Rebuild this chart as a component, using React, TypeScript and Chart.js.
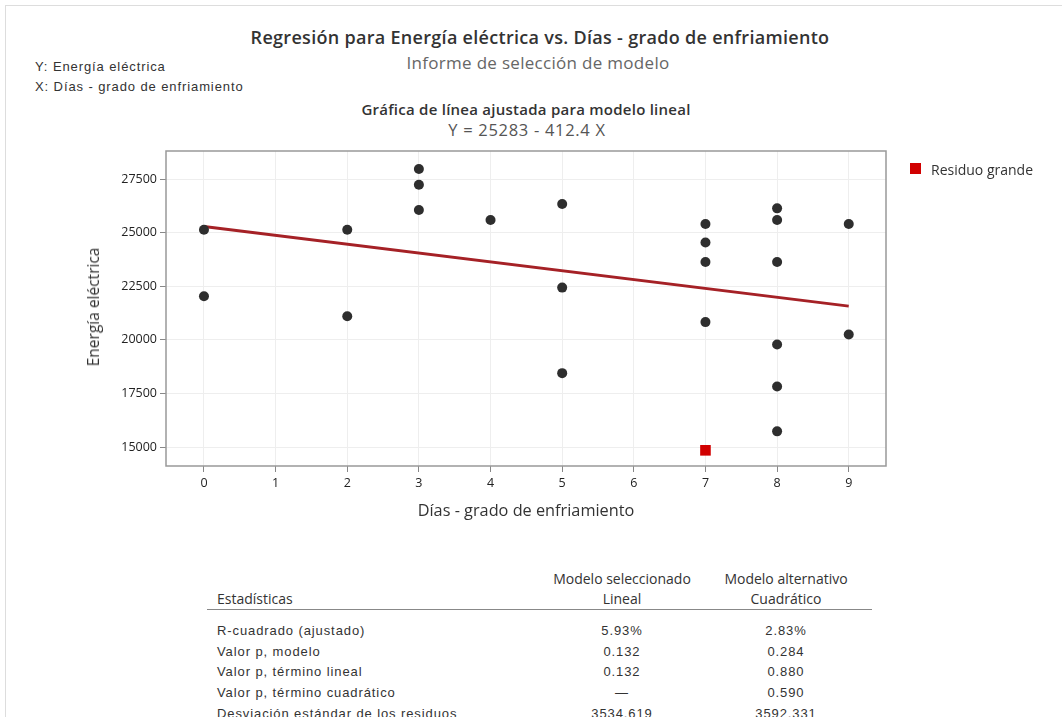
import React, { useEffect, useRef } from "react";
import { Chart, registerables } from "chart.js";

Chart.register(...registerables);

// ---- data ----
const dias = [0, 0, 2, 2, 3, 3, 3, 4, 5, 5, 5, 7, 7, 7, 7, 8, 8, 8, 8, 8, 8, 9, 9];
const energia = [
  25130, 22035, 25130, 21100, 27965, 27235, 26055, 25590, 26335, 22435, 18445,
  25405, 24535, 23630, 20825, 26130, 25590, 23630, 19780, 17825, 15730, 25405, 20245,
];
const residuoDias = [7];
const residuoEnergia = [14845];
const ajusteDias = [0, 9];
const ajusteEnergia = [25283, 21571];

const xTicks = [0, 1, 2, 3, 4, 5, 6, 7, 8, 9];
const yTicks = [15000, 17500, 20000, 22500, 25000, 27500];

const statRows = [
  "R-cuadrado (ajustado)",
  "Valor p, modelo",
  "Valor p, término lineal",
  "Valor p, término cuadrático",
  "Desviación estándar de los residuos",
];
const linealValues = ["5.93%", "0.132", "0.132", "—", "3534.619"];
const cuadraticoValues = ["2.83%", "0.284", "0.880", "0.590", "3592.331"];

const SANS = "'Open Sans', 'Noto Sans', sans-serif";
const ARIAL = "'Liberation Sans', Arial, sans-serif";

const framePlugin = {
  id: "frame",
  afterDraw(chart: any) {
    const { ctx, chartArea } = chart;
    ctx.save();
    ctx.strokeStyle = "#999999";
    ctx.lineWidth = 1.5;
    ctx.strokeRect(chartArea.left, chartArea.top, chartArea.right - chartArea.left, chartArea.bottom - chartArea.top);
    ctx.restore();
  },
};

function ChartCanvas() {
  const ref = useRef<HTMLCanvasElement | null>(null);
  useEffect(() => {
    if (!ref.current) return;
    const chart = new Chart(ref.current, {
      type: "scatter",
      data: {
        datasets: [
          {
            type: "line",
            label: "Ajuste",
            data: ajusteDias.map((x, i) => ({ x, y: ajusteEnergia[i] })),
            borderColor: "#a52126",
            borderWidth: 3,
            pointRadius: 0,
            fill: false,
            order: 2,
          } as any,
          {
            label: "Datos",
            data: dias.map((x, i) => ({ x, y: energia[i] })),
            backgroundColor: "#2e2e2e",
            borderColor: "#2e2e2e",
            pointRadius: 5,
            borderWidth: 0,
            order: 1,
          },
          {
            label: "Residuo grande",
            data: residuoDias.map((x, i) => ({ x, y: residuoEnergia[i] })),
            backgroundColor: "#d10000",
            borderColor: "#d10000",
            pointStyle: "rect",
            pointRadius: 7.5,
            borderWidth: 0,
            order: 0,
          },
        ],
      },
      options: {
        animation: false,
        responsive: false,
        devicePixelRatio: 1,
        layout: { padding: { left: 0, top: 11, right: 176, bottom: 0 } },
        plugins: { legend: { display: false }, tooltip: { enabled: false } },
        scales: {
          x: {
            type: "linear",
            min: -0.53,
            max: 9.52,
            afterBuildTicks: (s: any) => {
              s.ticks = xTicks.map((v) => ({ value: v }));
            },
            afterFit: (s: any) => {
              s.height = 74;
            },
            grid: { color: "#eeeeee", tickColor: "#888888", tickLength: 6, lineWidth: 1 },
            border: { display: false },
            ticks: { color: "#222222", font: { family: SANS, size: 12.5 }, padding: 4 },
          },
          y: {
            type: "linear",
            min: 14114,
            max: 28806,
            afterBuildTicks: (s: any) => {
              s.ticks = yTicks.map((v) => ({ value: v }));
            },
            afterFit: (s: any) => {
              s.width = 166;
            },
            grid: { color: "#eeeeee", tickColor: "#888888", tickLength: 6, lineWidth: 1 },
            border: { display: false },
            ticks: { color: "#222222", font: { family: SANS, size: 12.5 }, padding: 3, callback: (v: any) => String(v) },
          },
        },
      },
      plugins: [framePlugin],
    });
    return () => chart.destroy();
  }, []);
  return (
    <canvas
      ref={ref}
      width={1062}
      height={400}
      style={{ position: "absolute", left: 0, top: 140, width: 1062, height: 400 }}
    />
  );
}

export default function App() {
  const abs = (extra: React.CSSProperties): React.CSSProperties => ({ position: "absolute", whiteSpace: "nowrap", ...extra });
  const rowStyle = { fontFamily: ARIAL, fontSize: 13, color: "#333", letterSpacing: 0.9 };
  return (
    <div
      style={{
        position: "absolute",
        left: 0,
        top: 0,
        width: 1062,
        height: 717,
        overflow: "hidden",
        background: "#ffffff",
      }}
    >
      <div
        style={{
          position: "absolute",
          left: 5,
          top: 5,
          width: 1100,
          height: 800,
          borderTop: "1px solid #dddddd",
          borderLeft: "1px solid #dddddd",
        }}
      />
      <div style={abs({ left: 0, width: 1080, top: 25, textAlign: "center", fontFamily: SANS, fontWeight: 600, fontSize: 18, letterSpacing: 0.3, color: "#333" })}>
        Regresión para Energía eléctrica vs. Días - grado de enfriamiento
      </div>
      <div style={abs({ left: 0, width: 1076, top: 51, textAlign: "center", fontFamily: SANS, fontSize: 17, letterSpacing: 0.3, color: "#666" })}>
        Informe de selección de modelo
      </div>
      <div style={abs({ left: 35, top: 59, ...rowStyle })}>Y: Energía eléctrica</div>
      <div style={abs({ left: 35, top: 79, ...rowStyle })}>X: Días - grado de enfriamiento</div>
      <div style={abs({ left: 0, width: 1052, top: 99, textAlign: "center", fontFamily: SANS, fontWeight: 600, fontSize: 15, letterSpacing: 0.25, color: "#333" })}>
        Gráfica de línea ajustada para modelo lineal
      </div>
      <div style={abs({ left: 0, width: 1054, top: 118, textAlign: "center", fontFamily: SANS, fontSize: 16.5, letterSpacing: 0.7, color: "#555" })}>
        Y = 25283 - 412.4 X
      </div>

      <ChartCanvas />

      <div
        style={abs({
          left: 93,
          top: 307,
          transform: "translate(-50%, -50%) rotate(-90deg)",
          fontFamily: SANS,
          fontSize: 15.5,
          color: "#333",
        })}
      >
        Energía eléctrica
      </div>
      <div style={abs({ left: 0, width: 1052, top: 499, textAlign: "center", fontFamily: SANS, fontSize: 16.3, color: "#333" })}>
        Días - grado de enfriamiento
      </div>

      <div style={abs({ left: 910, top: 163, width: 11, height: 11, background: "#d10000" })} />
      <div style={abs({ left: 931, top: 160, fontFamily: SANS, fontSize: 14, color: "#333" })}>Residuo grande</div>

      <div style={abs({ left: 217, top: 589, fontFamily: SANS, fontSize: 14, color: "#333" })}>Estadísticas</div>
      <div style={abs({ left: 522, width: 200, top: 569, textAlign: "center", fontFamily: SANS, fontSize: 14, color: "#333" })}>Modelo seleccionado</div>
      <div style={abs({ left: 522, width: 200, top: 589, textAlign: "center", fontFamily: SANS, fontSize: 14, color: "#333" })}>Lineal</div>
      <div style={abs({ left: 686, width: 200, top: 569, textAlign: "center", fontFamily: SANS, fontSize: 14, color: "#333" })}>Modelo alternativo</div>
      <div style={abs({ left: 686, width: 200, top: 589, textAlign: "center", fontFamily: SANS, fontSize: 14, color: "#333" })}>Cuadrático</div>
      <div style={abs({ left: 207, top: 609, width: 665, height: 0, borderTop: "1px solid #888" })} />
      {statRows.map((r, i) => (
        <React.Fragment key={r}>
          <div style={abs({ left: 217, top: 623 + i * 20.7, ...rowStyle })}>{r}</div>
          <div style={abs({ left: 522, width: 200, top: 623 + i * 20.7, textAlign: "center", ...rowStyle })}>{linealValues[i]}</div>
          <div style={abs({ left: 686, width: 200, top: 623 + i * 20.7, textAlign: "center", ...rowStyle })}>{cuadraticoValues[i]}</div>
        </React.Fragment>
      ))}
    </div>
  );
}
